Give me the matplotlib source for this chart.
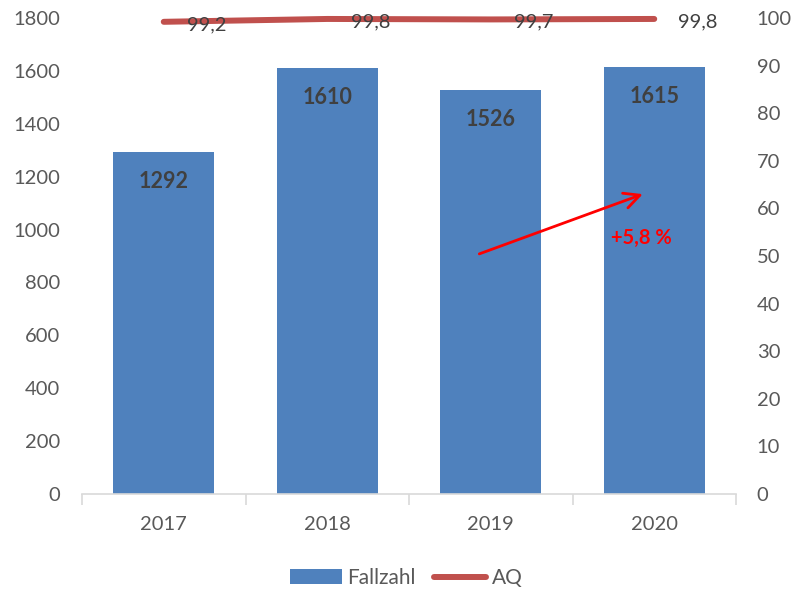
import matplotlib
matplotlib.use("Agg")
import matplotlib.pyplot as plt
from matplotlib.lines import Line2D
from matplotlib.patches import Patch
import numpy as np

years = ["2017", "2018", "2019", "2020"]
fallzahl = [1292, 1610, 1526, 1615]
aq = [99.2, 99.8, 99.7, 99.8]
aq_labels = ["99,2", "99,8", "99,7", "99,8"]
change_label = "+5,8 %"

plt.rcParams['font.family'] = ['Lato', 'DejaVu Sans']

BAR = "#4F81BD"
LINE = "#C0504D"
TXT = "#595959"

fig = plt.figure(figsize=(7.96, 5.90), dpi=100)
ax = fig.add_axes([82/796, 1-494/590, (736-82)/796, (494-18)/590])
x = np.arange(len(years))
ax.bar(x, fallzahl, width=0.62, color=BAR, zorder=2)
ax.set_xlim(-0.5, len(years)-0.5)
ax.set_ylim(0, 1800)
ax.set_yticks(np.arange(0, 1801, 200))
ax.set_xticks(x)
ax.set_xticklabels(years)
ax.tick_params(axis='y', length=0, pad=16, labelsize=14.5, labelcolor=TXT)
ax.tick_params(axis='x', length=0, pad=16, labelsize=14.5, labelcolor=TXT)
for s in ['top', 'left', 'right']:
    ax.spines[s].set_visible(False)
ax.spines['bottom'].set_color("#D9D9D9")
ax.spines['bottom'].set_linewidth(1.2)
# boundary tick marks
ax.set_xticks(np.arange(-0.5, len(years), 1.0), minor=True)
ax.tick_params(axis='x', which='minor', length=8, color="#D9D9D9", width=1.2)

for xi, v in zip(x, fallzahl):
    ax.annotate(str(v), (xi, v), xytext=(0, -21), textcoords='offset points',
                ha='center', va='center', fontsize=15.5, fontweight='bold', color="#404040", zorder=5)

ax2 = ax.twinx()
ax2.set_ylim(0, 100)
ax2.set_yticks(np.arange(0, 101, 10))
ax2.tick_params(axis='y', length=0, pad=15, labelsize=14.5, labelcolor=TXT)
for s in ['top', 'left', 'right', 'bottom']:
    ax2.spines[s].set_visible(False)
ax2.plot(x, aq, color=LINE, lw=4.3, solid_capstyle='round', zorder=3, clip_on=False)
for xi, v, lab in zip(x, aq, aq_labels):
    ax2.annotate(lab, (xi, v), xytext=(17, -2), textcoords='offset points',
                 ha='left', va='center', fontsize=14.5, color="#404040", zorder=6, annotation_clip=False)

# trend arrow
ax.annotate("", xy=(2.93, 1134), xytext=(1.93, 908),
            arrowprops=dict(arrowstyle='->', color='red', lw=2, mutation_scale=28, shrinkA=0, shrinkB=0), zorder=6)
ax.text(2.92, 970, change_label, ha='center', va='center', color='red', fontsize=14.5, fontweight='bold', zorder=6)

handles = [Patch(facecolor=BAR, edgecolor='none'), Line2D([0], [0], color=LINE, lw=4.3, solid_capstyle='round')]
fig.legend(handles, ["Fallzahl", "AQ"], loc='center', bbox_to_anchor=(406/796, 1-578/590), ncol=2,
           frameon=False, fontsize=15, handlelength=2.5, handletextpad=0.25, columnspacing=0.9, labelcolor=TXT)

fig.savefig("out.png", dpi=100)
